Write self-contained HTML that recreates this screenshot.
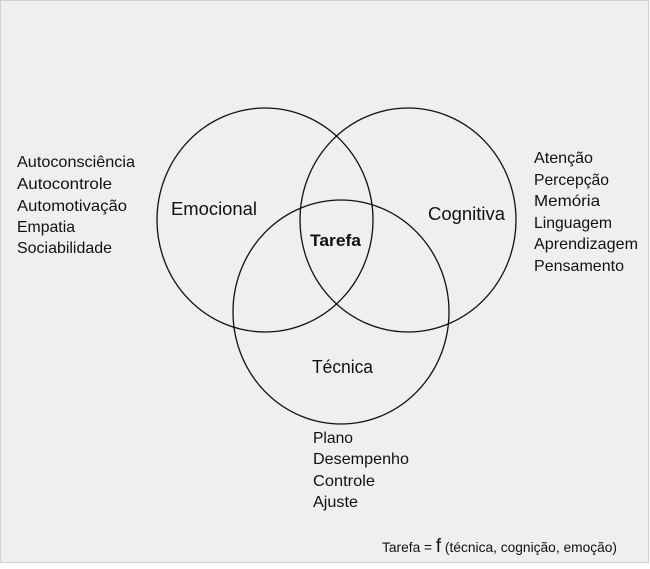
<!DOCTYPE html>
<html><head><meta charset="utf-8"><style>
html,body{margin:0;padding:0;background:#fff}
svg{display:block}
text{font-family:"Liberation Sans",sans-serif;fill:#111}
</style></head><body>
<svg width="650" height="569" viewBox="0 0 650 569" xmlns="http://www.w3.org/2000/svg">
<rect x="0.5" y="0.5" width="648" height="562" fill="#efefef" stroke="#d0d0d0"/>
<g fill="none" stroke="#111" stroke-width="1.3">
<ellipse cx="265" cy="220" rx="108" ry="112"/>
<ellipse cx="408" cy="220" rx="108" ry="112"/>
<ellipse cx="341" cy="312" rx="108" ry="112"/>
</g>
<g font-size="16">
<text x="17" y="167" textLength="118" lengthAdjust="spacingAndGlyphs">Autoconsciência</text>
<text x="17" y="189" textLength="95" lengthAdjust="spacingAndGlyphs">Autocontrole</text>
<text x="17" y="211" textLength="110" lengthAdjust="spacingAndGlyphs">Automotivação</text>
<text x="17" y="232" textLength="58" lengthAdjust="spacingAndGlyphs">Empatia</text>
<text x="17" y="253" textLength="95" lengthAdjust="spacingAndGlyphs">Sociabilidade</text>
<text x="534" y="163" textLength="59" lengthAdjust="spacingAndGlyphs">Atenção</text>
<text x="534" y="185" textLength="75" lengthAdjust="spacingAndGlyphs">Percepção</text>
<text x="534" y="206" textLength="66" lengthAdjust="spacingAndGlyphs">Memória</text>
<text x="534" y="228" textLength="78" lengthAdjust="spacingAndGlyphs">Linguagem</text>
<text x="534" y="249" textLength="104" lengthAdjust="spacingAndGlyphs">Aprendizagem</text>
<text x="534" y="271" textLength="90" lengthAdjust="spacingAndGlyphs">Pensamento</text>
<text x="313" y="443" textLength="40" lengthAdjust="spacingAndGlyphs">Plano</text>
<text x="313" y="464" textLength="96" lengthAdjust="spacingAndGlyphs">Desempenho</text>
<text x="313" y="486" textLength="62" lengthAdjust="spacingAndGlyphs">Controle</text>
<text x="313" y="507" textLength="45" lengthAdjust="spacingAndGlyphs">Ajuste</text>
</g>
<text x="171" y="215" font-size="18" textLength="86" lengthAdjust="spacingAndGlyphs">Emocional</text>
<text x="428" y="220" font-size="18" textLength="77" lengthAdjust="spacingAndGlyphs">Cognitiva</text>
<text x="310" y="246" font-size="17" font-weight="bold" textLength="51" lengthAdjust="spacingAndGlyphs">Tarefa</text>
<text x="312" y="373" font-size="18" textLength="61" lengthAdjust="spacingAndGlyphs">Técnica</text>
<text x="382" y="552" font-size="14" textLength="235" lengthAdjust="spacingAndGlyphs">Tarefa = <tspan font-size="19">f</tspan> (técnica, cognição, emoção)</text>
</svg>
</body></html>
